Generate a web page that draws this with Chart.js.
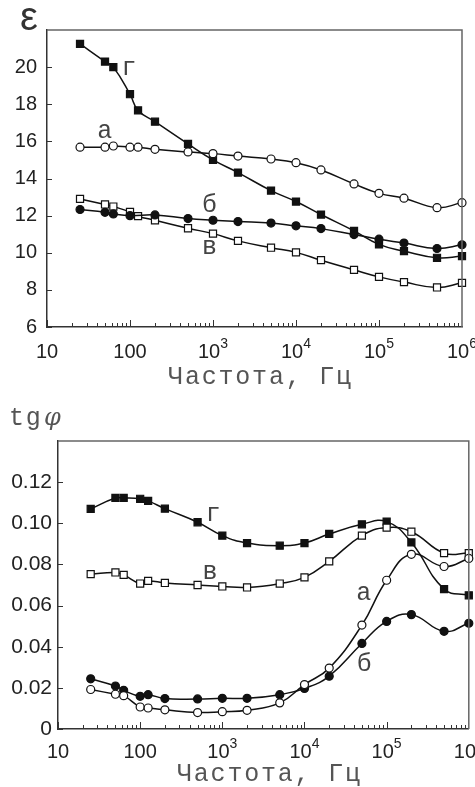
<!DOCTYPE html>
<html>
<head>
<meta charset="utf-8">
<script src="https://cdn.jsdelivr.net/npm/chart.js@4.4.1/dist/chart.umd.min.js"></script>
<style>
  html, body { margin: 0; padding: 0; background: #fff; }
  .box { position: relative; width: 475px; }
  #top { height: 390px; }
  #bottom { height: 397px; }
</style>
</head>
<body>
<div class="box" id="top"><canvas id="epsChart"></canvas></div>
<div class="box" id="bottom"><canvas id="tgChart"></canvas></div>
<script>
// measurement frequencies, Hz
const freq = [25, 50, 63, 100, 125, 200, 500, 1e3, 2e3, 5e3, 1e4, 2e4, 5e4, 1e5, 2e5, 5e5, 1e6];

// permittivity (top plot)
const epsA = [15.69, 15.69, 15.75, 15.69, 15.69, 15.57, 15.43, 15.34, 15.21, 15.05, 14.85, 14.46, 13.71, 13.2, 12.94, 12.43, 12.7];
const epsB = [12.33, 12.18, 12.09, 12.0, null, 12.04, 11.84, 11.75, 11.68, 11.6, 11.45, 11.3, 10.98, 10.73, 10.52, 10.23, 10.43];
const epsV = [12.9, 12.6, 12.49, 12.2, 11.97, 11.75, 11.32, 11.03, 10.64, 10.27, 10.02, 9.6, 9.08, 8.7, 8.42, 8.13, 8.38];
const epsG = [21.25, 20.3, 20.0, 18.54, 17.67, 17.06, 15.86, 15.0, 14.32, 13.35, 12.76, 12.06, 11.18, 10.45, 10.09, 9.73, 9.82];

// loss tangent (bottom plot)
const tgA = [0.0192, 0.0169, 0.0162, 0.0107, 0.0102, 0.0093, 0.008, 0.0084, 0.0091, 0.0127, 0.0216, 0.0296, 0.0505, 0.0723, 0.0849, 0.079, 0.0829];
const tgB = [0.0244, 0.0209, 0.0188, 0.0159, 0.0167, 0.0148, 0.0146, 0.0149, 0.0149, 0.0167, 0.0197, 0.0257, 0.0416, 0.0523, 0.0556, 0.0475, 0.0514];
const tgV = [0.0753, 0.0761, 0.0749, 0.0707, 0.072, 0.071, 0.07, 0.0693, 0.0688, 0.0707, 0.0737, 0.0815, 0.094, 0.0979, 0.0959, 0.0855, 0.0855];
const tgG = [0.107, 0.1123, 0.1123, 0.1119, 0.1109, 0.1071, 0.1005, 0.094, 0.0904, 0.0891, 0.0904, 0.0948, 0.0995, 0.1008, 0.0907, 0.068, 0.065];

// x tick labels (decades)
const decadeValues = [10, 100, 1e3, 1e4, 1e5, 1e6];
const decadeBase = ['10', '100', '10', '10', '10', '10'];
const decadeSup = ['', '', '3', '4', '5', '6'];

// curve letters: [text, freq, value]
const epsLetters = [['а', 51, 16.16], ['б', 930, 12.18], ['в', 930, 9.92], ['г', 100, 19.55]];
const tgLetters = [['а', 53900, 0.0626], ['б', 54700, 0.028], ['в', 725, 0.0728], ['г', 798, 0.1011]];

const xTitle = 'Частота, Гц';
const MONO = '"Liberation Mono", "DejaVu Sans Mono", monospace';
const SANS = '"Liberation Sans", Arial, sans-serif';

function series(values, style, filled) {
  return {
    data: values.map((v, i) => ({ x: freq[i], y: v })),
    borderColor: '#111',
    borderWidth: 1.5,
    tension: 0.45,
    spanGaps: true,
    clip: false,
    pointStyle: style,
    pointRadius: style === 'rect' ? 5 : 4,
    pointBorderWidth: 1.2,
    pointBorderColor: '#111',
    pointBackgroundColor: filled ? '#111' : '#fff'
  };
}

function decor(cfg) {
  return {
    id: 'decor',
    afterDraw(chart) {
      const { ctx, chartArea: a } = chart;
      const x = chart.scales.x, y = chart.scales.y;
      ctx.save();

      // frame top and right
      ctx.strokeStyle = '#666';
      ctx.lineWidth = 1.5;
      ctx.beginPath();
      ctx.moveTo(a.left, a.top);
      ctx.lineTo(a.right, a.top);
      ctx.lineTo(a.right, a.bottom);
      ctx.stroke();

      // inward tick marks
      ctx.strokeStyle = '#333';
      ctx.lineWidth = 1;
      ctx.beginPath();
      for (let e = 1; e < 6; e++) {
        for (let s = 1; s < 10; s++) {
          const px = Math.round(x.getPixelForValue(s * Math.pow(10, e))) + 0.5;
          ctx.moveTo(px, a.bottom);
          ctx.lineTo(px, a.bottom - (s === 1 ? 7 : 4));
        }
      }
      y.ticks.forEach(t => {
        if (t.value > y.max - 1e-9) return;
        const py = Math.round(y.getPixelForValue(t.value)) + 0.5;
        ctx.moveTo(a.left, py);
        ctx.lineTo(a.left + 5, py);
      });
      ctx.stroke();

      // decade labels with superscripts
      ctx.fillStyle = '#222';
      ctx.textBaseline = 'middle';
      ctx.textAlign = 'left';
      decadeValues.forEach((v, i) => {
        const px = x.getPixelForValue(v);
        ctx.font = '20px ' + SANS;
        const wb = ctx.measureText(decadeBase[i]).width;
        ctx.font = '14px ' + SANS;
        const ws = decadeSup[i] ? ctx.measureText(decadeSup[i]).width : 0;
        const start = px - (wb + ws) / 2;
        const ly = a.bottom + cfg.labelOffset;
        ctx.font = '20px ' + SANS;
        ctx.fillText(decadeBase[i], start, ly);
        if (ws) {
          ctx.font = '14px ' + SANS;
          ctx.fillText(decadeSup[i], start + wb, ly - 8);
        }
      });

      // axis title
      ctx.fillStyle = '#555';
      ctx.textBaseline = 'alphabetic';
      ctx.textAlign = 'center';
      ctx.letterSpacing = '1.8px';
      ctx.font = '25px ' + MONO;
      ctx.fillText(xTitle, (a.left + a.right) / 2 + 6, cfg.titleBaseline);

      // curve letters
      ctx.fillStyle = '#444';
      cfg.letters.forEach(([t, f, v]) => {
        ctx.fillText(t, x.getPixelForValue(f), y.getPixelForValue(v));
      });
      ctx.letterSpacing = '0px';

      cfg.yTitle(ctx);
      ctx.restore();
    }
  };
}

function options(pad, yMin, yMax, step, yWidth, xHeight, yPad, fontSize, fmt) {
  return {
    responsive: true,
    maintainAspectRatio: false,
    animation: false,
    layout: { padding: pad },
    plugins: { legend: { display: false }, tooltip: { enabled: false } },
    scales: {
      x: {
        type: 'logarithmic', min: 10, max: 1e6,
        grid: { display: false, drawTicks: false },
        border: { color: '#333', width: 1.5 },
        ticks: { display: false },
        afterFit: s => { s.height = xHeight; }
      },
      y: {
        min: yMin, max: yMax,
        grid: { display: false, drawTicks: false },
        border: { color: '#333', width: 1.5 },
        ticks: {
          stepSize: step, padding: yPad, color: '#222',
          font: { family: SANS, size: fontSize },
          callback: v => (v > yMax - step / 2 ? '' : fmt(v))
        },
        afterFit: s => { s.width = yWidth; }
      }
    }
  };
}

new Chart(document.getElementById('epsChart'), {
  type: 'line',
  data: {
    datasets: [
      series(epsA, 'circle', false),
      series(epsB, 'circle', true),
      series(epsV, 'rect', false),
      series(epsG, 'rect', true)
    ]
  },
  options: options({ top: 30, right: 13, left: 0, bottom: 0 }, 6, 22, 2, 47, 63, 10, 20, v => String(v)),
  plugins: [decor({
    labelOffset: 25,
    titleBaseline: 384,
    letters: epsLetters,
    yTitle: ctx => {
      ctx.fillStyle = '#333';
      ctx.textAlign = 'center';
      ctx.font = '40px ' + SANS;
      ctx.fillText('ε', 29, 30);
    }
  })]
});

new Chart(document.getElementById('tgChart'), {
  type: 'line',
  data: {
    datasets: [
      series(tgA, 'circle', false),
      series(tgB, 'circle', true),
      series(tgV, 'rect', false),
      series(tgG, 'rect', true)
    ]
  },
  options: options({ top: 51, right: 6, left: 0, bottom: 0 }, 0, 0.14, 0.02, 58, 58, 6, 21,
    v => (v === 0 ? '0' : v.toFixed(2))),
  plugins: [decor({
    labelOffset: 23,
    titleBaseline: 391,
    letters: tgLetters,
    yTitle: ctx => {
      ctx.fillStyle = '#555';
      ctx.textAlign = 'left';
      ctx.letterSpacing = '1.8px';
      ctx.font = '25px ' + MONO;
      ctx.fillText('tg', 9, 35);
      ctx.letterSpacing = '0px';
      ctx.font = 'italic 24px "DejaVu Serif", serif';
      ctx.fillText('φ', 44, 35);
    }
  })]
});
</script>
</body>
</html>
